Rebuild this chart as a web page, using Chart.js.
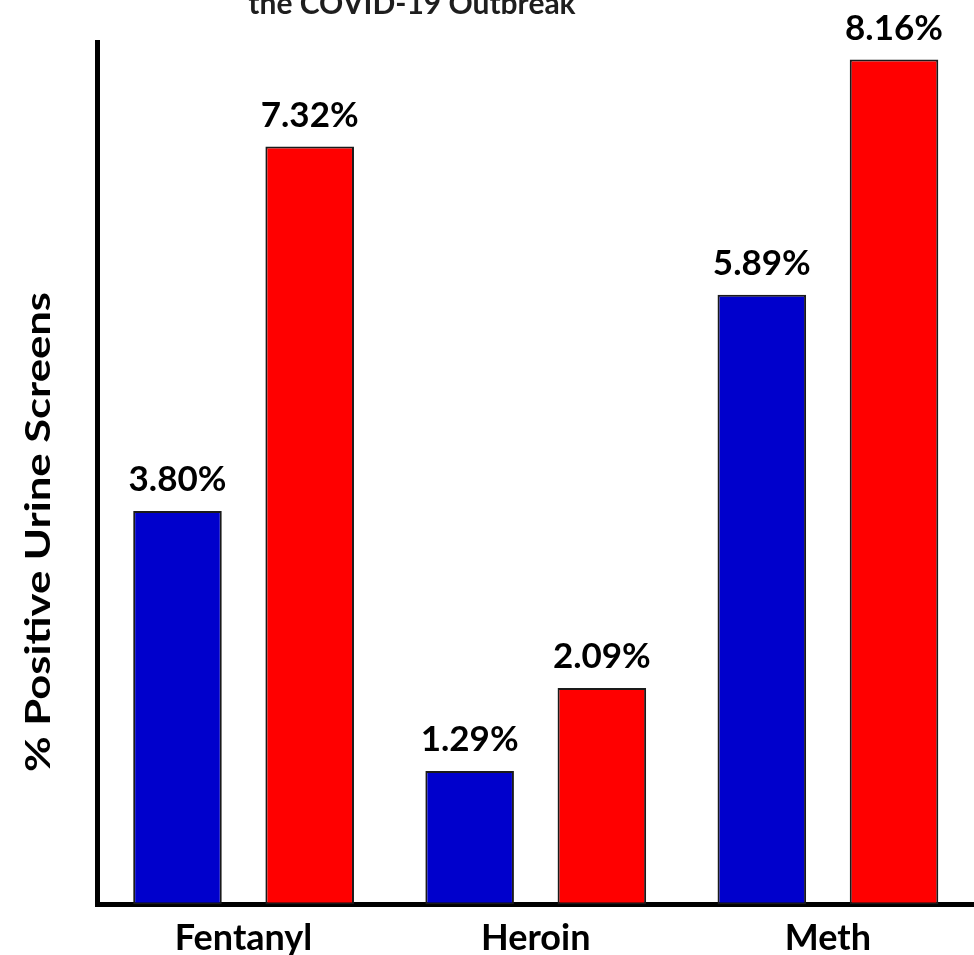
<!DOCTYPE html>
<html lang="en">
<head>
    <meta charset="UTF-8">
    <title>% Positive Urine Screens</title>
    <script src="https://cdn.jsdelivr.net/npm/chart.js"></script>
    <style>
        html, body { margin: 0; padding: 0; background: #fff; }
    </style>
</head>
<body>
    <canvas id="screensChart" width="974" height="955"></canvas>
    <script>
        // data
        const drugs = ['Fentanyl', 'Heroin', 'Meth'];
        const beforeOutbreak = [3.80, 1.29, 5.89];
        const afterOutbreak = [7.32, 2.09, 8.16];
        const seriesNames = ['Before the COVID-19 Outbreak', 'After the COVID-19 Outbreak'];
        const yTitle = '% Positive Urine Screens';
        const chartTitle = 'the COVID-19 Outbreak';

        const FONT = 'Lato';

        // percent labels above each bar
        const valueLabels = {
            id: 'valueLabels',
            afterDatasetsDraw(chart) {
                const ctx = chart.ctx;
                ctx.save();
                ctx.font = 'bold 35px ' + FONT;
                ctx.fillStyle = '#000';
                ctx.textAlign = 'center';
                ctx.textBaseline = 'alphabetic';
                chart.data.datasets.forEach((ds, i) => {
                    chart.getDatasetMeta(i).data.forEach((bar, j) => {
                        ctx.fillText(ds.data[j].toFixed(2) + '%', bar.x, bar.y - 20);
                    });
                });
                ctx.restore();
            }
        };

        // rotated y title and the cut-off title at the top
        const extraText = {
            id: 'extraText',
            afterDraw(chart) {
                const ctx = chart.ctx;
                ctx.save();
                ctx.fillStyle = '#000';
                ctx.textAlign = 'center';
                ctx.textBaseline = 'alphabetic';
                ctx.font = 'bold 35px ' + FONT;
                ctx.translate(50, 532);
                ctx.rotate(-Math.PI / 2);
                // the original title runs wider than Lato, stretch it along its length
                const w = ctx.measureText(yTitle).width;
                ctx.scale(480 / w, 1);
                ctx.fillText(yTitle, 0, 0);
                ctx.restore();

                ctx.save();
                ctx.fillStyle = '#1e1e1e';
                ctx.textAlign = 'center';
                ctx.font = 'bold 30px ' + FONT;
                ctx.fillText(chartTitle, 412, 14);
                ctx.restore();
            }
        };

        new Chart(document.getElementById('screensChart'), {
            type: 'bar',
            data: {
                labels: drugs,
                datasets: [
                    {
                        label: seriesNames[0],
                        data: beforeOutbreak,
                        backgroundColor: '#0000cc',
                        borderColor: '#1a1a1a',
                        borderWidth: 2,
                        borderSkipped: false
                    },
                    {
                        label: seriesNames[1],
                        data: afterOutbreak,
                        backgroundColor: '#ff0000',
                        borderColor: '#1a1a1a',
                        borderWidth: 2,
                        borderSkipped: false
                    }
                ]
            },
            options: {
                responsive: false,
                animation: false,
                devicePixelRatio: 1,
                categoryPercentage: 0.905,
                barPercentage: 0.67,
                layout: { padding: { top: 42, left: 0, right: 0, bottom: 0 } },
                plugins: {
                    legend: { display: false },
                    tooltip: { enabled: false }
                },
                scales: {
                    x: {
                        grid: { display: false, drawTicks: false },
                        border: { display: true, color: '#000', width: 5 },
                        ticks: {
                            color: '#000',
                            padding: 12,
                            font: { family: FONT, size: 36, weight: 'bold' }
                        },
                        afterFit(s) { s.height = 50.5; }
                    },
                    y: {
                        min: 0,
                        max: 8.33,
                        grid: { display: false, drawTicks: false },
                        border: { display: true, color: '#000', width: 5 },
                        ticks: { display: false },
                        afterFit(s) { s.width = 97.5; }
                    }
                }
            },
            plugins: [valueLabels, extraText]
        });
    </script>
</body>
</html>
